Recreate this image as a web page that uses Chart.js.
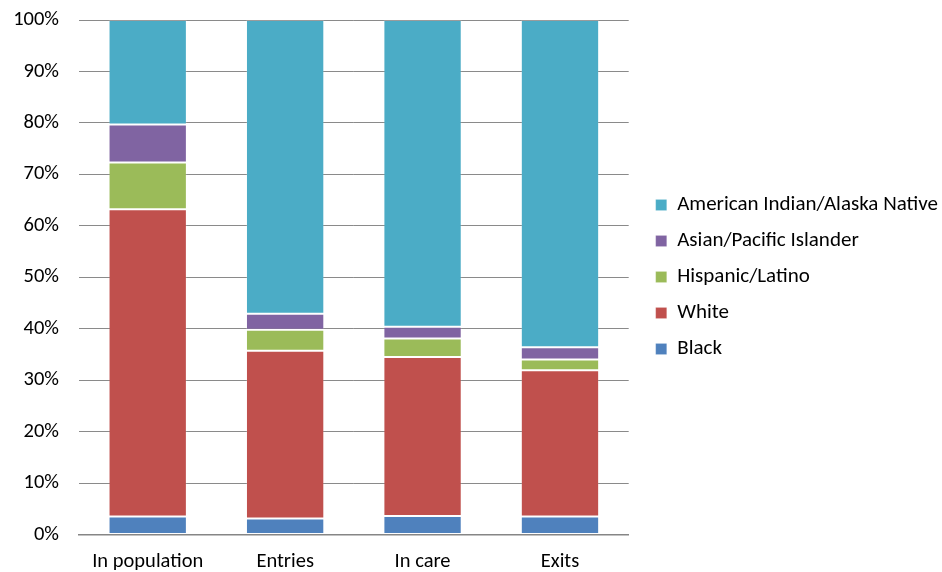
<!DOCTYPE html>
<html>
<head>
<meta charset="utf-8">
<script src="https://cdn.jsdelivr.net/npm/chart.js@4.4.0/dist/chart.umd.min.js"></script>
<style>
  html, body { margin: 0; padding: 0; background: #fff; }
  #wrap { width: 942px; height: 572px; }
</style>
</head>
<body>
<div id="wrap"><canvas id="chart"></canvas></div>
<script>
// Share of children by race/ethnicity, in percent
const categories = ['In population', 'Entries', 'In care', 'Exits'];
const black = [3.5, 3.1, 3.6, 3.5];
const white = [59.7, 32.6, 30.9, 28.4];
const hispanic = [9.1, 4.1, 3.6, 2.1];
const asian = [7.4, 3.1, 2.3, 2.4];
const americanIndian = [20.3, 57.1, 59.6, 63.6];
const yTicks = [0, 10, 20, 30, 40, 50, 60, 70, 80, 90, 100];

const FONT = "Carlito, Lato, sans-serif";
const SIZE = 20.5;
const seg = (label, data, color) => ({
  label, data,
  backgroundColor: color,
  borderColor: 'rgba(255,255,255,0.15)',
  borderWidth: 1,
  borderSkipped: false,
  categoryPercentage: 1.0,
  barPercentage: 0.57
});

// nudge the legend right of the plot edge and up to the plot's middle
const legendShift = {
  id: 'legendShift',
  afterLayout(chart) {
    chart.legend.left += 12;
    chart.legend.right += 12;
    chart.legend.top -= 9;
    chart.legend.bottom -= 9;
  }
};

new Chart(document.getElementById('chart'), {
  type: 'bar',
  data: {
    labels: categories,
    datasets: [
      seg('Black', black, '#4F81BD'),
      seg('White', white, '#C0504D'),
      seg('Hispanic/Latino', hispanic, '#9BBB59'),
      seg('Asian/Pacific Islander', asian, '#8064A2'),
      seg('American Indian/Alaska Native', americanIndian, '#4BACC6')
    ]
  },
  plugins: [legendShift],
  options: {
    responsive: true,
    maintainAspectRatio: false,
    animation: false,
    layout: { padding: { left: 13, right: 6, top: 0, bottom: 0 } },
    plugins: {
      tooltip: { enabled: false },
      legend: {
        position: 'right',
        reverse: true,
        maxWidth: 400,
        labels: {
          boxWidth: 11,
          boxHeight: 11,
          padding: 15,
          color: '#000',
          font: { family: FONT, size: 21 }
        }
      }
    },
    scales: {
      x: {
        stacked: true,
        afterFit: (axis) => { axis.height = 37.5; axis.paddingLeft = 0; axis.paddingRight = 0; },
        grid: { display: false, drawTicks: false },
        border: { color: '#868686', width: 1.5 },
        ticks: { color: '#000', padding: 15, font: { family: FONT, size: SIZE } }
      },
      y: {
        stacked: true,
        min: 0,
        max: 100,
        afterBuildTicks: (axis) => { axis.ticks = yTicks.map(v => ({ value: v })); },
        afterFit: (axis) => { axis.width = 66; axis.paddingTop = 20; axis.paddingBottom = 0; },
        grid: { color: '#8a8a8a', lineWidth: 1, drawTicks: false },
        border: { display: false },
        ticks: {
          color: '#000',
          padding: 20,
          font: { family: FONT, size: SIZE },
          callback: (v) => v + '%'
        }
      }
    }
  }
});
</script>
</body>
</html>
